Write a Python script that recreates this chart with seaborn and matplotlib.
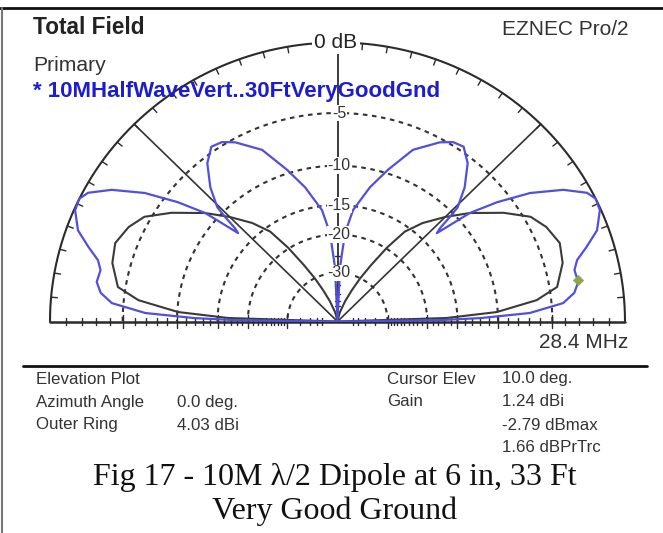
import numpy as np
import pandas as pd
import matplotlib
matplotlib.use("Agg")
import matplotlib.pyplot as plt
import seaborn as sns

# ---------------- data (elevation angle in deg, field in dB rel. outer ring) -------------
elev_blue = [0, 0.8, 1.4, 2.6, 4.8, 7.1, 9.6, 12.6, 14.8, 17.1, 19.9, 23.6, 26.1, 28.0,
             31.0, 34.5, 37.6, 40.2, 41.7, 42.5, 43.2, 43.8, 44.4, 47.4, 51.4, 55.0,
             58.0, 61.0, 66.9, 72.1, 76.8, 82.3, 85.3, 87.4, 90]
db_blue = [-100, -17.7, -12.0, -6.9, -4.1, -3.2, -2.8, -2.9, -2.55, -1.7, -0.7, -0.07,
           0.0, -0.3, -1.5, -3.55, -6.1, -8.7, -11.6, -13.0, -12.2, -10.5, -9.2, -7.3,
           -5.5, -4.6, -4.75, -5.3, -6.9, -9.6, -12.1, -15.6, -19.7, -28.0, -100]

elev_black = [0, 1.9, 3.5, 6.3, 9.2, 15, 20, 25, 29.2, 34, 40.2, 45, 50, 54, 57, 60, 63,
              66, 70, 76, 90]
db_black = [-100, -16.6, -10.1, -6.2, -4.4, -3.6, -3.35, -3.8, -4.5, -6.2, -8.7, -10.9,
            -13.3, -15.8, -19.8, -25.0, -30.0, -36.0, -44.0, -58.0, -100]

ring_db = [-5, -10, -15, -20, -30]
ring_labels = ["-5", "-10", "-15", "-20", "-30"]
minor_db_base = list(range(-1, -31, -1)) + [-35, -40, -45, -50]
minor_db_vert = [-25, -35, -40, -45, -50]
cursor_elev = 10.0
cursor_db = -2.79

info_left = [("Elevation Plot", ""), ("Azimuth Angle", "0.0 deg."), ("Outer Ring", "4.03 dBi")]
info_right = [("Cursor Elev", "10.0 deg."), ("Gain", "1.24 dBi"), ("", "-2.79 dBmax"), ("", "1.66 dBPrTrc")]

# ---------------- style ----------------
sns.set_style("white")
plt.rcParams["font.family"] = ["Liberation Sans", "DejaVu Sans"]

W, H = 663, 533
fig = plt.figure(figsize=(W / 100, H / 100), dpi=100)


def fx(x):
    return x / W


def fy(y):
    return 1 - y / H


def arrl(db):
    return 0.89 ** (-np.asarray(db, dtype=float) / 2.0)


def pattern_df(elev, db):
    e = np.asarray(elev, float)
    d = np.asarray(db, float)
    full_e = np.concatenate([e, 180 - e[::-1][1:]])
    full_d = np.concatenate([d, d[::-1][1:]])
    r = arrl(full_d)
    t = np.radians(full_e)
    return pd.DataFrame({"x": r * np.cos(t), "y": r * np.sin(t), "order": np.arange(len(t))})


# plot axes: x in [-1,1], y in [0,1] mapped onto the (slightly elliptical) half-disc
cx_px, base_px, a_px, b_px = 337.5, 321.5, 287.5, 279.0
ax = fig.add_axes([fx(cx_px - a_px), fy(base_px), 2 * a_px / W, b_px / H])
ax.set_xlim(-1, 1)
ax.set_ylim(0, 1)
ax.axis("off")

grid_c = "#2b2b2b"
th = np.linspace(0, np.pi, 721)
# outer ring
ax.plot(np.cos(th), np.sin(th), color=grid_c, lw=1.5, clip_on=False, zorder=2)
# dashed rings
for d in ring_db:
    r = arrl(d)
    ax.plot(r * np.cos(th), r * np.sin(th), color="#333333", lw=1.5,
            linestyle=(0, (2.2, 2.2)), clip_on=False, zorder=1)
# radials
for ang in (45, 135):
    t = np.radians(ang)
    ax.plot([0, np.cos(t)], [0, np.sin(t)], color="#333333", lw=1.2, clip_on=False, zorder=1)
ax.plot([0, 0], [0, 1], color=grid_c, lw=1.3, clip_on=False, zorder=1)
ax.plot([-1, 1], [0, 0], color=grid_c, lw=1.8, clip_on=False, zorder=2)
# ticks on outer ring every 5 deg
for ang in range(5, 180, 5):
    t = np.radians(ang)
    ax.plot([np.cos(t), 0.978 * np.cos(t)], [np.sin(t), 0.978 * np.sin(t)],
            color=grid_c, lw=1.0, clip_on=False, zorder=2)
# ticks along baseline
for d in minor_db_base:
    r = arrl(d)
    h = 0.022 if d in ring_db else 0.011
    for s in (-1, 1):
        ax.plot([s * r, s * r], [-h, h], color=grid_c, lw=1.0, clip_on=False, zorder=2)
# ticks along the vertical axis
for d in minor_db_vert:
    r = arrl(d)
    ax.plot([-0.01, 0.01], [r, r], color=grid_c, lw=1.0, clip_on=False, zorder=2)

# patterns (seaborn)
df_black = pattern_df(elev_black, db_black)
df_blue = pattern_df(elev_blue, db_blue)
sns.lineplot(data=df_black, x="x", y="y", sort=False, estimator=None, color="#3a3a3a",
             lw=1.5, ax=ax, zorder=3)
sns.lineplot(data=df_blue, x="x", y="y", sort=False, estimator=None, color="#5050dc",
             lw=1.6, ax=ax, zorder=4)
rc = arrl(cursor_db)
tc = np.radians(cursor_elev)
sns.scatterplot(x=[rc * np.cos(tc)], y=[rc * np.sin(tc)], marker="D", s=28, color="#8fa64a",
                edgecolor="#8fa64a", ax=ax, zorder=5, clip_on=False)
ax.set_xlim(-1, 1)
ax.set_ylim(0, 1)
ax.set_xlabel("")
ax.set_ylabel("")

# ring labels
bb = dict(facecolor="white", edgecolor="none", pad=0.6)
ax.text(-0.005, 1.0, "0 dB", ha="center", va="center", fontsize=15, color="#222222",
        bbox=dict(facecolor="white", edgecolor="none", pad=1.5), zorder=6)
for d, lab in zip(ring_db, ring_labels):
    ax.text(0.006, arrl(d), lab, ha="center", va="center", fontsize=11.5, color="#333333",
            bbox=bb, zorder=6)

# header texts
fig.text(fx(33), fy(34.5), "Total Field", fontsize=16.3, fontweight="bold", color="#222222",
         ha="left", va="baseline")
fig.text(fx(628), fy(35), "EZNEC Pro/2", fontsize=15, color="#333333", ha="right", va="baseline")
fig.text(fx(33), fy(70.5), "Primary", fontsize=15.2, color="#333333", ha="left", va="baseline")
fig.text(fx(33), fy(97), "* 10MHalfWaveVert..30FtVeryGoodGnd", fontsize=16, fontweight="bold",
         color="#1c1cd0", ha="left", va="baseline", zorder=10)
fig.text(fx(628), fy(348), "28.4 MHz", fontsize=15, color="#333333", ha="right", va="baseline")

# separator + borders
fig.add_artist(plt.Line2D([fx(23), fx(647)], [fy(366), fy(366)], color="#111111", lw=2.0))
fig.add_artist(plt.Line2D([0, 1], [fy(7.5), fy(7.5)], color="#111111", lw=2.0))
fig.add_artist(plt.Line2D([fx(1.5), fx(1.5)], [0, fy(7.5)], color="#777777", lw=1.5))

# info block
rows_y = [379, 402, 425, 448]
for i, (k, v) in enumerate(info_left):
    fig.text(fx(36), fy(rows_y[i]), k, fontsize=12.2, color="#333333", ha="left", va="center")
    fig.text(fx(177), fy(rows_y[i]), v, fontsize=12.2, color="#333333", ha="left", va="center")
for i, (k, v) in enumerate(info_right):
    fig.text(fx(387), fy(rows_y[i]), k, fontsize=12.2, color="#333333", ha="left", va="center")
    fig.text(fx(502), fy(rows_y[i]), v, fontsize=12.2, color="#333333", ha="left", va="center")

# caption
fig.text(fx(335), fy(485), "Fig 17 - 10M \u03bb/2 Dipole at 6 in, 33 Ft", fontsize=23,
         family=["Liberation Serif", "DejaVu Serif"], color="#111111", ha="center", va="baseline")
fig.text(fx(335), fy(519), "Very Good Ground", fontsize=23,
         family=["Liberation Serif", "DejaVu Serif"], color="#111111", ha="center", va="baseline")

fig.savefig("out.png", dpi=100)
